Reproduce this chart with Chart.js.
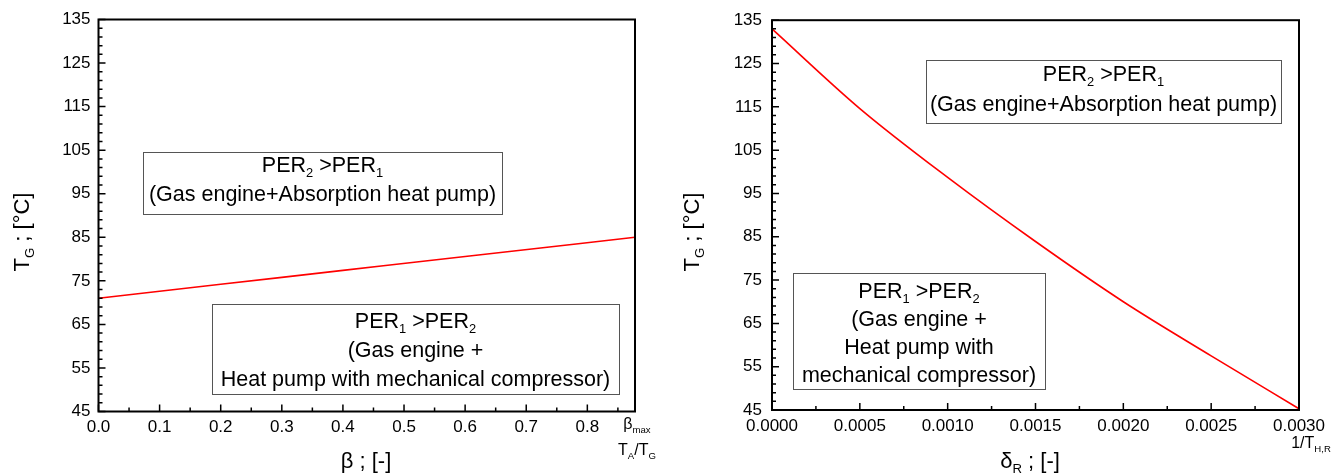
<!DOCTYPE html>
<html>
<head>
<meta charset="utf-8">
<script src="https://cdn.jsdelivr.net/npm/chart.js@4.4.1/dist/chart.umd.min.js"></script>
<style>
html, body { margin: 0; padding: 0; background: #fff; }
#wrap { position: relative; width: 1331px; height: 475px; }
.pane { position: absolute; top: 0; height: 475px; }
</style>
</head>
<body>
<div id="wrap">
    <div class="pane" style="left:0;width:665px"><canvas id="chartBeta"></canvas></div>
    <div class="pane" style="left:665px;width:666px"><canvas id="chartDelta"></canvas></div>
</div>
<script>
// ===== DATA =====
const betaX = [0, 0.2, 0.4, 0.6, 0.878];
const betaTG = [71, 74.2, 77.4, 80.6, 85];

const deltaX = [0, 0.0005, 0.0010, 0.0015, 0.0020, 0.0025, 0.0030];
const deltaTG = [133, 114.6, 98.7, 83.9, 70.0, 57.5, 45.3];

const tgTicks = [45, 55, 65, 75, 85, 95, 105, 115, 125, 135];
const betaTicks = [0, 0.1, 0.2, 0.3, 0.4, 0.5, 0.6, 0.7, 0.8];
const deltaTicks = [0, 0.0005, 0.0010, 0.0015, 0.0020, 0.0025, 0.0030];
const betaMax = 0.878;

// ===== HELPERS =====
const FONT = '"Liberation Sans", Arial, sans-serif';
const BOX_FONT = 21.5;

// parts: [text, isSubscript]
function drawRich(ctx, parts, x, y, size, align) {
    let total = 0;
    const widths = parts.map(([t, sub]) => {
        ctx.font = (sub ? size * 0.6 : size) + 'px ' + FONT;
        const w = ctx.measureText(t).width;
        total += w;
        return w;
    });
    let cx = align === 'left' ? x : align === 'right' ? x - total : x - total / 2;
    ctx.textAlign = 'left';
    ctx.textBaseline = 'middle';
    ctx.fillStyle = '#000';
    parts.forEach(([t, sub], i) => {
        ctx.font = (sub ? size * 0.6 : size) + 'px ' + FONT;
        ctx.fillText(t, cx, sub ? y + size * 0.35 : y);
        cx += widths[i];
    });
}

const decor = {
    id: 'decor',
    afterDraw(chart, args, o) {
        const { ctx, chartArea: a, scales: { x, y } } = chart;
        ctx.save();

        // frame
        ctx.strokeStyle = '#000';
        ctx.lineWidth = 2;
        ctx.strokeRect(a.left, a.top, a.right - a.left, a.bottom - a.top);

        // inward ticks, major + minor
        ctx.lineWidth = 1.5;
        ctx.beginPath();
        const ny = Math.round((y.max - y.min) / o.yMinor);
        for (let i = 0; i <= ny; i++) {
            const py = y.getPixelForValue(y.min + i * o.yMinor);
            const len = i % o.yEvery === 0 ? 7 : 4;
            ctx.moveTo(a.left, py);
            ctx.lineTo(a.left + len, py);
        }
        for (let i = 0; i * o.xMinor <= x.max + 1e-9; i++) {
            const px = x.getPixelForValue(i * o.xMinor);
            const len = i % o.xEvery === 0 ? 7 : 4;
            ctx.moveTo(px, a.bottom);
            ctx.lineTo(px, a.bottom - len);
        }
        ctx.stroke();

        // region boxes
        o.boxes.forEach(b => {
            ctx.strokeStyle = '#555';
            ctx.lineWidth = 1;
            ctx.strokeRect(b.x + 0.5, b.y + 0.5, b.w, b.h);
            b.lines.forEach(([parts, ly]) => drawRich(ctx, parts, b.x + b.w / 2, ly, BOX_FONT, 'center'));
        });

        // axis titles
        ctx.save();
        ctx.translate(o.yTitle.x, o.yTitle.y);
        ctx.rotate(-Math.PI / 2);
        drawRich(ctx, [['T', false], ['G', true], [' ; [°C]', false]], 0, 0, 22, 'center');
        ctx.restore();
        drawRich(ctx, o.xTitle.parts, o.xTitle.x, o.xTitle.y, 22, 'center');

        (o.extra || []).forEach(e => drawRich(ctx, e.parts, e.x, e.y, 16, e.align || 'center'));
        ctx.restore();
    }
};

function makeChart(id, xs, ys, xTicks, xMax, xFmt, opts) {
    return new Chart(document.getElementById(id), {
        type: 'scatter',
        data: {
            datasets: [{
                data: xs.map((v, i) => ({ x: v, y: ys[i] })),
                showLine: true,
                borderColor: '#ff0000',
                borderWidth: 1.6,
                pointRadius: 0,
                cubicInterpolationMode: 'monotone'
            }]
        },
        options: {
            responsive: true,
            maintainAspectRatio: false,
            animation: false,
            layout: { padding: opts.padding },
            plugins: {
                legend: { display: false },
                tooltip: { enabled: false },
                decor: opts.decor
            },
            scales: {
                x: {
                    type: 'linear',
                    min: 0,
                    max: xMax,
                    afterBuildTicks: s => { s.ticks = xTicks.map(v => ({ value: v })); },
                    afterFit: s => { s.height = opts.xHeight; },
                    grid: { display: false, drawTicks: false },
                    border: { display: false },
                    ticks: {
                        color: '#000',
                        font: { family: FONT, size: 17 },
                        padding: 6,
                        maxRotation: 0,
                        autoSkip: false,
                        callback: v => v.toFixed(xFmt)
                    }
                },
                y: {
                    min: 45,
                    max: 135,
                    afterBuildTicks: s => { s.ticks = tgTicks.map(v => ({ value: v })); },
                    afterFit: s => { s.width = opts.yWidth; },
                    grid: { display: false, drawTicks: false },
                    border: { display: false },
                    ticks: {
                        color: '#000',
                        font: { family: FONT, size: 17 },
                        padding: opts.yPad,
                        autoSkip: false
                    }
                }
            }
        },
        plugins: [decor]
    });
}

// ===== LEFT: beta =====
makeChart('chartBeta', betaX, betaTG, betaTicks, betaMax, 1, {
    padding: { left: 0, top: 19.5, right: 30, bottom: 0 },
    xHeight: 63.5,
    yWidth: 98.5,
    yPad: 8,
    decor: {
        yMinor: 2, yEvery: 5, xMinor: 0.05, xEvery: 2,
        yTitle: { x: 23, y: 232 },
        xTitle: { parts: [['β', false], [' ; [-]', false]], x: 366, y: 462 },
        extra: [
            { parts: [['β', false], ['max', true]], x: 637, y: 425 },
            { parts: [['T', false], ['A', true], ['/T', false], ['G', true]], x: 637, y: 451 }
        ],
        boxes: [
            { x: 143, y: 152, w: 359, h: 62,
              lines: [[[['PER', false], ['2', true], [' >PER', false], ['1', true]], 166],
                      [[['(Gas engine+Absorption heat pump)', false]], 195]] },
            { x: 212, y: 304, w: 407, h: 90,
              lines: [[[['PER', false], ['1', true], [' >PER', false], ['2', true]], 322],
                      [[['(Gas engine +', false]], 351],
                      [[['Heat pump with mechanical compressor)', false]], 380]] }
        ]
    }
});

// ===== RIGHT: delta_R =====
makeChart('chartDelta', deltaX, deltaTG, deltaTicks, 0.0030, 4, {
    padding: { left: 0, top: 20, right: 28, bottom: 0 },
    xHeight: 65,
    yWidth: 107,
    yPad: 10,
    decor: {
        yMinor: 2, yEvery: 5, xMinor: 0.00025, xEvery: 2,
        yTitle: { x: 28, y: 232 },
        xTitle: { parts: [['δ', false], ['R', true], [' ; [-]', false]], x: 365, y: 462 },
        extra: [
            { parts: [['1/T', false], ['H,R', true]], x: 646, y: 444 }
        ],
        boxes: [
            { x: 261, y: 60, w: 355, h: 63,
              lines: [[[['PER', false], ['2', true], [' >PER', false], ['1', true]], 75],
                      [[['(Gas engine+Absorption heat pump)', false]], 105]] },
            { x: 128, y: 273, w: 252, h: 116,
              lines: [[[['PER', false], ['1', true], [' >PER', false], ['2', true]], 292],
                      [[['(Gas engine +', false]], 320],
                      [[['Heat pump with', false]], 348],
                      [[['mechanical compressor)', false]], 376]] }
        ]
    }
});
</script>
</body>
</html>
